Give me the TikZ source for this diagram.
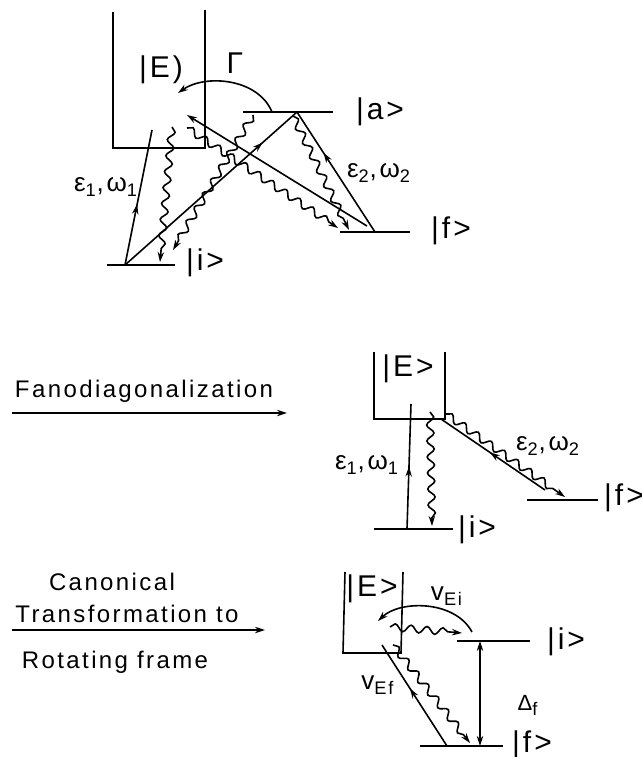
\documentclass[tikz,border=0pt]{standalone}
\usepackage{fontspec}
\setmainfont{Liberation Sans}[LetterSpace=10]
\usetikzlibrary{arrows.meta,decorations.pathmorphing,decorations.markings,positioning}

\begin{document}
\begin{tikzpicture}[
  x=0.5pt, y=-0.5pt,
  >={Stealth[length=5pt,width=3.2pt]},
  line width=0.8pt,
  lvl/.style={line width=0.9pt},
  wave/.style={->, decorate,
    decoration={snake, amplitude=1.8pt, segment length=8pt, post length=4pt}},
  midarr/.style={postaction={decorate}, decoration={markings,
    mark=at position #1 with {\arrow{Stealth[length=5pt,width=3.2pt]}}}},
  lab/.style={font=\fontsize{15}{17}\selectfont, inner sep=1pt},
  sym/.style={font=\fontsize{13}{15}\selectfont, inner sep=1pt},
  txt/.style={font=\fontsize{12}{14}\selectfont, inner sep=0pt},
]
  \useasboundingbox (0,0) rectangle (642,757);

  % ---------- top: full scheme
  \draw (113,12) -- (113,148) -- (205,148) -- (205,10);
  \node[lab] (Etop) at (161,70) {|E)};
  \coordinate (ti0) at (107,265); \coordinate (ti1) at (175,265);
  \coordinate (ta0) at (243,112); \coordinate (ta1) at (333,112);
  \coordinate (tf0) at (340,232); \coordinate (tf1) at (410,232);
  \draw[lvl] (ti0) -- (ti1);
  \draw[lvl] (ta0) -- (ta1);
  \draw[lvl] (tf0) -- (tf1);
  \node[lab] (tilab) at (205,263) {|i>};
  \node[lab] (talab) at (380,112) {|a>};
  \node[lab] (tflab) at (451,231) {|f>};

  % pump and probe
  \coordinate (tis) at (125,265);
  \coordinate (tEe) at (152,130);
  \coordinate (tav) at (297,112);
  \coordinate (tfs) at (375,232);
  \coordinate (tfr) at (367,226);
  \coordinate (tEr) at (187,115);
  \draw[midarr=0.45] (tis) -- (tEe);
  \draw[midarr=0.8] (tis) -- (tav);
  \draw[midarr=0.66] (tfs) -- (tav);
  \draw[->] (tfr) -- (tEr);
  \node[sym] (te1) at (106,187) {ε\textsubscript{1},ω\textsubscript{1}};
  \node[sym] (te2) at (379,173) {ε\textsubscript{2},ω\textsubscript{2}};

  % autoionization
  \coordinate (tG0) at (272,112); \coordinate (tG1) at (178,93);
  \draw[->] (tG0) .. controls (258,78) and (205,74) .. (tG1);
  \node[lab] (tGam) at (235,63) {Γ};

  % emission
  \draw[wave] (172,127) -- (160,262);
  \draw[wave] (253,115) -- (173,250);
  \draw[wave] (187,128) -- (338,228);
  \draw[wave] (293,116) -- (349,230);

  % ---------- Fano diagonalization
  \node[txt] (fano) at (144,391) {Fanodiagonalization};
  \coordinate (fa0) at (12,413); \coordinate (fa1) at (287,413);
  \draw[->] (fa0) -- (fa1);

  \draw (374,352) -- (374,419) -- (445,419) -- (445,352);
  \node[lab] (Emid) at (408,369) {|E>};
  \coordinate (mi0) at (374,529); \coordinate (mi1) at (453,529);
  \coordinate (mf0) at (527,500); \coordinate (mf1) at (598,500);
  \draw[lvl] (mi0) -- (mi1);
  \draw[lvl] (mf0) -- (mf1);
  \node[lab] (milab) at (477,530) {|i>};
  \node[lab] (mflab) at (624,498) {|f>};
  \coordinate (mis) at (407,529); \coordinate (mEe) at (411,404);
  \coordinate (mfs) at (545,490); \coordinate (mEc) at (441,419);
  \draw[midarr=0.5] (mis) -- (mEe);
  \draw[midarr=0.53] (mfs) -- (mEc);
  \draw[wave] (430,412) -- (432,526);
  \draw[wave] (446,414) -- (565,497);
  \node[sym] (me1) at (367,465) {ε\textsubscript{1},ω\textsubscript{1}};
  \node[sym] (me2) at (548,446) {ε\textsubscript{2},ω\textsubscript{2}};

  % ---------- rotating frame
  \node[txt] (can1) at (112,582) {Canonical};
  \node[txt] (can2) at (127,614) {Transformation to};
  \node[txt] (can3) at (115,662) {Rotating frame};
  \coordinate (ca0) at (12,630); \coordinate (ca1) at (265,630);
  \draw[->] (ca0) -- (ca1);

  \draw (345,572) -- (343,653) -- (401,653) -- (403,572);
  \node[lab] (Ebot) at (372,589) {|E>};
  \coordinate (bi0) at (457,641); \coordinate (bi1) at (530,641);
  \coordinate (bf0) at (420,746); \coordinate (bf1) at (503,746);
  \draw[lvl] (bi0) -- (bi1);
  \draw[lvl] (bf0) -- (bf1);
  \node[lab] (bilab) at (566,642) {|i>};
  \node[lab] (bflab) at (532,745) {|f>};
  \coordinate (bdt) at (480,641); \coordinate (bdb) at (480,746);
  \draw[<->] (bdb) -- (bdt);
  \node[sym] (bdel) at (528,705) {{\fontsize{11}{11}\selectfont Δ}\textsubscript{f}};
  \coordinate (bfs) at (447,746); \coordinate (bEe) at (382,645);
  \draw[midarr=0.57] (bfs) -- (bEe);
  \draw[wave] (393,645) -- (470,743);
  \coordinate (bV0) at (472,632); \coordinate (bV1) at (378,621);
  \draw[->] (bV0) .. controls (455,600) and (400,600) .. (bV1);
  \draw[wave] (390,627) -- (462,633);
  \node[sym] (bvi) at (447,596) {v\textsubscript{Ei}};
  \node[sym] (bvf) at (378,685) {v\textsubscript{Ef}};
\end{tikzpicture}
\end{document}
